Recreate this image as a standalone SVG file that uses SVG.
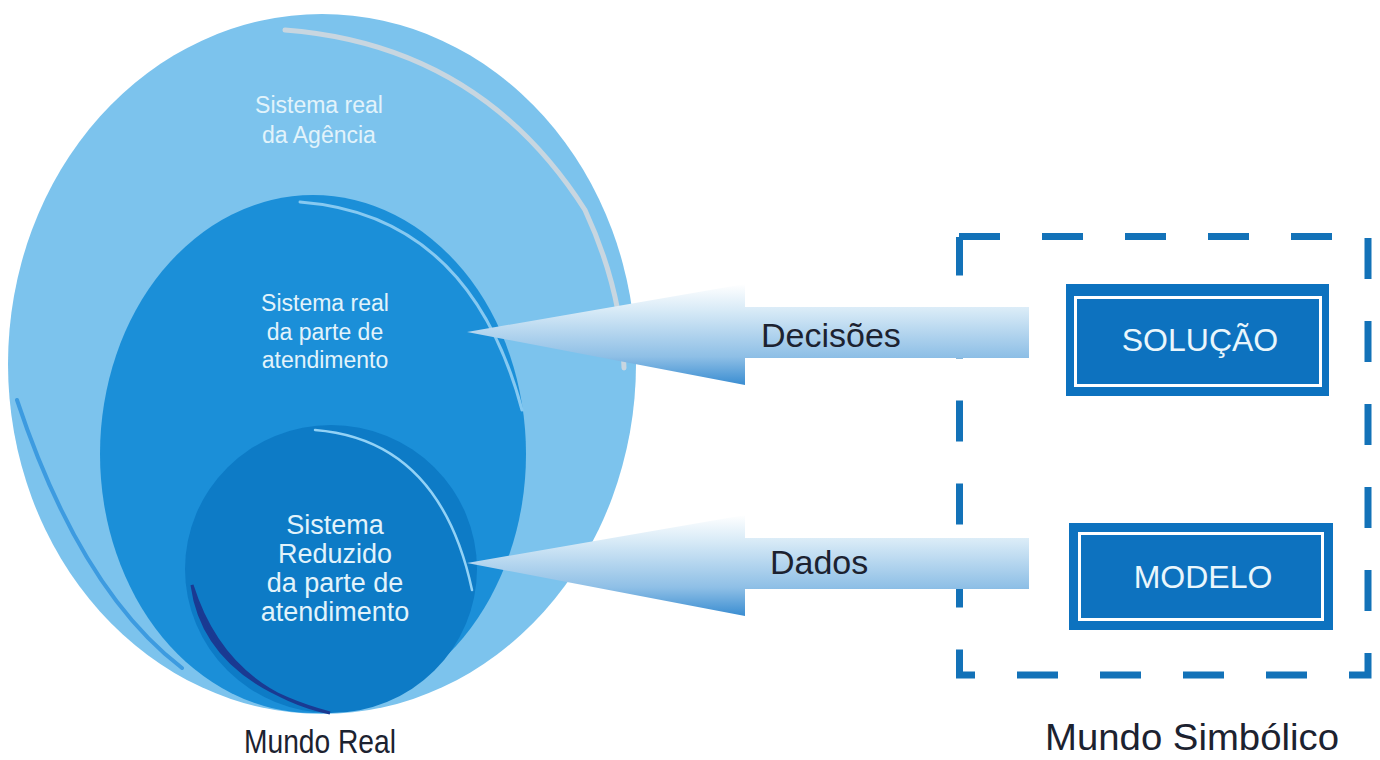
<svg xmlns="http://www.w3.org/2000/svg" width="1380" height="760" viewBox="0 0 1380 760">
  <style>
    .lbl { font-family: "Liberation Sans", Arial, Helvetica, sans-serif; }
    .inside { fill: #e2f3fb; text-anchor: middle; }
    .dark { fill: #1c2230; }
    .boxtxt { fill: #e9f6fc; text-anchor: middle; font-size: 32px; }
    .box { fill: #0d72bf; }
    .boxline { fill: none; stroke: #ffffff; stroke-width: 3; }
    .dash { fill: none; stroke: #1372b8; stroke-width: 7; stroke-dasharray: 41 42; }
  </style>
  <defs>
    <linearGradient id="arrowFill" x1="0" y1="0" x2="0" y2="1">
      <stop offset="0" stop-color="#ffffff"/>
      <stop offset="0.25" stop-color="#d9ebf7"/>
      <stop offset="0.72" stop-color="#8ebfe6"/>
      <stop offset="1" stop-color="#3a8dd1"/>
    </linearGradient>
    <polygon id="arrowShape" points="467,332 745,284 745,307 1029,307 1029,358 745,358 745,385"/>
  </defs>

  <rect width="1380" height="760" fill="#ffffff"/>

  <!-- outer system -->
  <g id="sistema-agencia">
    <ellipse cx="322" cy="364" rx="314" ry="350" fill="#7cc3ed"/>
    <path d="M285,30 Q480,45 585,210 Q622,290 624,368" fill="none" stroke="#c8d6e0" stroke-width="5" stroke-linecap="round"/>
    <path d="M17,400 Q80,590 182,668" fill="none" stroke="#3d9be0" stroke-width="4" stroke-linecap="round"/>
    <text class="lbl inside" x="319" y="113" font-size="23">Sistema real</text>
    <text class="lbl inside" x="319" y="143" font-size="23">da Agência</text>
  </g>

  <!-- attendance system -->
  <g id="sistema-atendimento">
    <ellipse cx="313" cy="454" rx="213" ry="259" fill="#1b8fd8"/>
    <path d="M300,202 Q470,215 522,410" fill="none" stroke="#86c9f1" stroke-width="3" stroke-linecap="round"/>
    <text class="lbl inside" x="325" y="311" font-size="23">Sistema real</text>
    <text class="lbl inside" x="325" y="340" font-size="23">da parte de</text>
    <text class="lbl inside" x="325" y="368" font-size="23">atendimento</text>
  </g>

  <!-- reduced system -->
  <g id="sistema-reduzido">
    <ellipse cx="331" cy="569" rx="146" ry="144" fill="#0d7bc6"/>
    <path d="M192,585 Q205,680 330,713 Q225,690 192,585 Z" fill="#1a3a92" stroke="#1a3a92" stroke-width="3"/>
    <path d="M315,430 Q440,440 472,590" fill="none" stroke="#92d2f6" stroke-width="2.5" stroke-linecap="round"/>
    <text class="lbl inside" x="335" y="534" font-size="27">Sistema</text>
    <text class="lbl inside" x="335" y="563" font-size="27">Reduzido</text>
    <text class="lbl inside" x="335" y="592" font-size="27">da parte de</text>
    <text class="lbl inside" x="335" y="621" font-size="27">atendimento</text>
  </g>

  <!-- symbolic world frame -->
  <g id="mundo-simbolico">
    <path class="dash" d="M959,236.5 H1368"/>
    <path class="dash" d="M1368,238 V675 H959.5 V237"/>
  </g>

  <g id="solucao">
    <rect class="box" x="1066" y="284" width="263" height="112"/>
    <rect class="boxline" x="1075.5" y="297.5" width="245" height="88"/>
    <text class="lbl boxtxt" x="1200" y="351">SOLUÇÃO</text>
  </g>

  <g id="modelo">
    <rect class="box" x="1069" y="523" width="264" height="107"/>
    <rect class="boxline" x="1079.5" y="533.5" width="243" height="86"/>
    <text class="lbl boxtxt" x="1203" y="588">MODELO</text>
  </g>

  <!-- connectors -->
  <g id="connectors">
    <use href="#arrowShape" fill="url(#arrowFill)"/>
    <use href="#arrowShape" fill="url(#arrowFill)" transform="translate(0,231)"/>
    <text class="lbl dark" x="761" y="347" font-size="34">Decisões</text>
    <text class="lbl dark" x="770" y="574" font-size="34">Dados</text>
  </g>

  <text class="lbl dark" x="320" y="753" font-size="33" text-anchor="middle" textLength="152" lengthAdjust="spacingAndGlyphs">Mundo Real</text>
  <text class="lbl dark" x="1192" y="750" font-size="36" text-anchor="middle" textLength="294" lengthAdjust="spacingAndGlyphs">Mundo Simbólico</text>
</svg>
